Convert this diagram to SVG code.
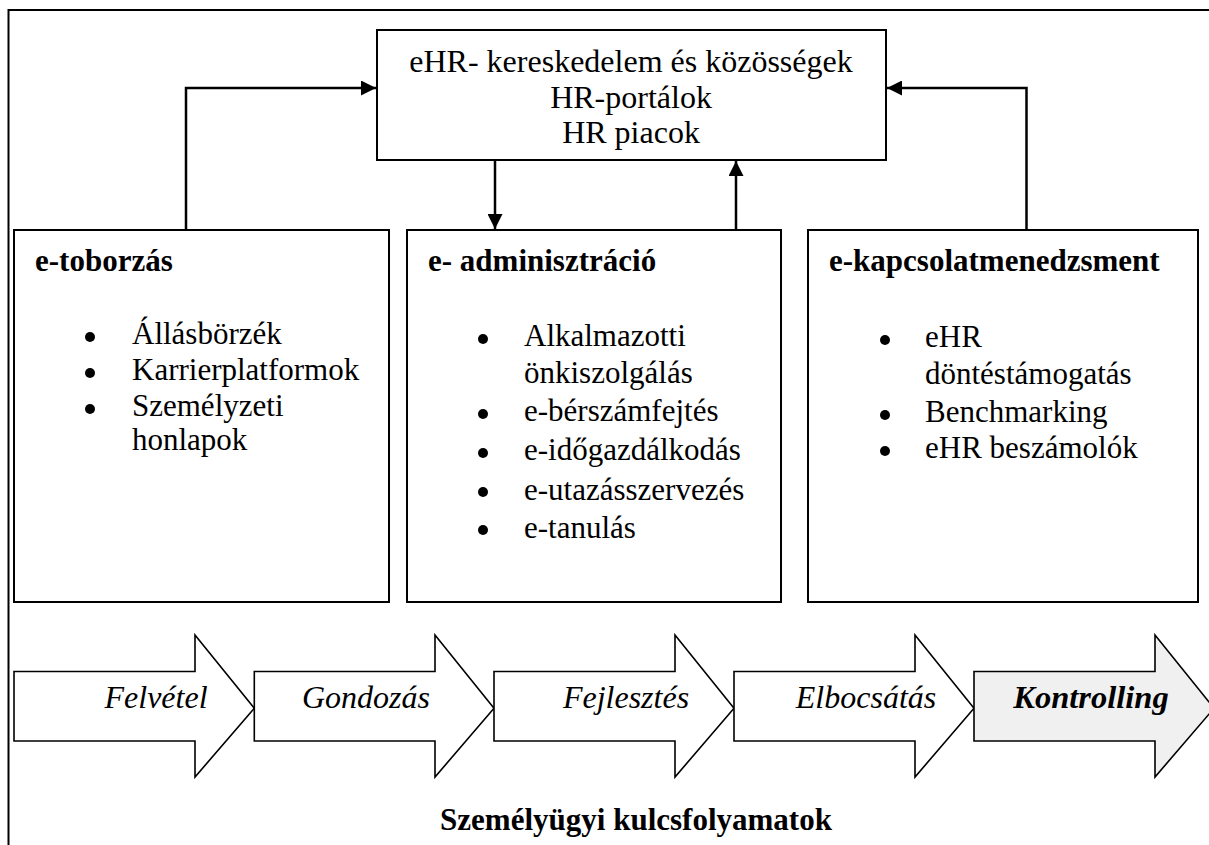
<svg xmlns="http://www.w3.org/2000/svg" width="1209" height="845" viewBox="0 0 1209 845" font-family="'Liberation Serif', Tinos, 'Times New Roman', 'DejaVu Serif', serif">
  <style>
    .box { fill: #ffffff; stroke: #000000; stroke-width: 2; }
    .frame { fill: none; stroke: #000000; stroke-width: 2; }
    .conn { fill: none; stroke: #000000; stroke-width: 2.5; }
    .step { fill: #ffffff; stroke: #000000; stroke-width: 1.6; stroke-linejoin: miter; }
    .step-last { fill: #f0f0f0; }
    text { font-family: "Liberation Serif", Tinos, "Times New Roman", "DejaVu Serif", serif; font-size: 31px; font-weight: normal; font-style: normal; fill: #000000; }
    text.title { font-weight: bold; }
    text.mid { text-anchor: middle; }
    text.big { font-size: 32px; }
    text.proc { font-style: italic; text-anchor: middle; font-size: 32px; }
    text.proc.title { font-size: 32.5px; }
    .dot { fill: #000000; }
  </style>
  <defs>
    <marker id="head" viewBox="0 0 10 10" refX="10" refY="5" markerWidth="6" markerHeight="6" markerUnits="strokeWidth" orient="auto">
      <path d="M0,0 L10,5 L0,10 Z" fill="#000000"/>
    </marker>
  </defs>

  <rect width="1209" height="845" fill="#ffffff"/>

  <!-- surrounding frame, open to the right and bottom -->
  <path class="frame" d="M8.5,845 V10 H1209"/>

  <!-- connectors between the portal box and the process boxes -->
  <g id="connectors">
    <path class="conn" d="M186,230 V88 H376" marker-end="url(#head)"/>
    <path class="conn" d="M1026.5,230 V88 H887" marker-end="url(#head)"/>
    <path class="conn" d="M495,160 V229" marker-end="url(#head)"/>
    <path class="conn" d="M736,230 V161" marker-end="url(#head)"/>
  </g>

  <g id="portal">
    <rect class="box" x="377" y="30" width="509" height="130"/>
    <text class="mid big" x="631" y="72">eHR- kereskedelem és közösségek</text>
    <text class="mid big" x="631" y="108">HR-portálok</text>
    <text class="mid big" x="631" y="143">HR piacok</text>
  </g>

  <g id="recruiting">
    <rect class="box" x="14" y="230" width="375" height="372"/>
    <text class="title" x="35" y="271">e-toborzás</text>
    <circle class="dot" cx="90" cy="337" r="5"/>
    <text x="132" y="344">Állásbörzék</text>
    <circle class="dot" cx="90" cy="373" r="5"/>
    <text x="132" y="380">Karrierplatformok</text>
    <circle class="dot" cx="90" cy="409" r="5"/>
    <text x="132" y="416">Személyzeti</text>
    <text x="132" y="450">honlapok</text>
  </g>

  <g id="administration">
    <rect class="box" x="407" y="230" width="374" height="372"/>
    <text class="title" x="428" y="271">e- adminisztráció</text>
    <circle class="dot" cx="483" cy="339" r="5"/>
    <text x="524" y="346">Alkalmazotti</text>
    <text x="524" y="383">önkiszolgálás</text>
    <circle class="dot" cx="483" cy="414" r="5"/>
    <text x="524" y="421">e-bérszámfejtés</text>
    <circle class="dot" cx="483" cy="453" r="5"/>
    <text x="524" y="460">e-időgazdálkodás</text>
    <circle class="dot" cx="483" cy="492" r="5"/>
    <text x="524" y="500">e-utazásszervezés</text>
    <circle class="dot" cx="483" cy="530" r="5"/>
    <text x="524" y="538">e-tanulás</text>
  </g>

  <g id="relationship">
    <rect class="box" x="808" y="230" width="390" height="372"/>
    <text class="title" x="829" y="271">e-kapcsolatmenedzsment</text>
    <circle class="dot" cx="885" cy="340" r="5"/>
    <text x="925" y="347">eHR</text>
    <text x="925" y="384">döntéstámogatás</text>
    <circle class="dot" cx="885" cy="415" r="5"/>
    <text x="925" y="422">Benchmarking</text>
    <circle class="dot" cx="885" cy="451" r="5"/>
    <text x="925" y="458">eHR beszámolók</text>
  </g>

  <!-- key HR process chain -->
  <g id="step-felvetel">
    <path class="step" d="M14,671.5 H195 V635 L254.3,708.3 L195,777 V741 H14 Z"/>
    <text class="proc" x="156" y="708">Felvétel</text>
  </g>
  <g id="step-gondozas">
    <path class="step" d="M254.3,671.5 H435 V635 L494,708.3 L435,777 V741 H254.3 Z"/>
    <text class="proc" x="366" y="708">Gondozás</text>
  </g>
  <g id="step-fejlesztes">
    <path class="step" d="M494,671.5 H675 V635 L734,708.3 L675,777 V741 H494 Z"/>
    <text class="proc" x="626" y="708">Fejlesztés</text>
  </g>
  <g id="step-elbocsatas">
    <path class="step" d="M734,671.5 H915 V635 L974,708.3 L915,777 V741 H734 Z"/>
    <text class="proc" x="866" y="708">Elbocsátás</text>
  </g>
  <g id="step-kontrolling">
    <path class="step step-last" d="M974,671.5 H1155 V635 L1214,708.3 L1155,777 V741 H974 Z"/>
    <text class="proc title" x="1091" y="708">Kontrolling</text>
  </g>

  <g id="caption">
    <text class="title mid" x="636" y="830">Személyügyi kulcsfolyamatok</text>
  </g>
</svg>
